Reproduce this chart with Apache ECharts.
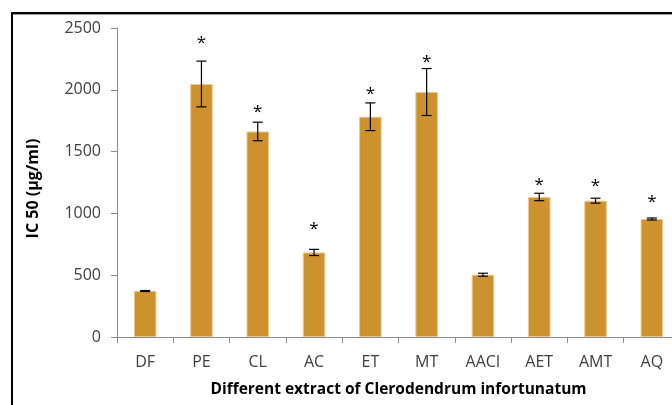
<!DOCTYPE html>
<html>
<head>
<meta charset="utf-8">
<script src="https://cdn.jsdelivr.net/npm/echarts@6/dist/echarts.min.js"></script>
<style>
html, body { margin: 0; padding: 0; background: #fff; }
#chart { width: 672px; height: 405px; }
</style>
</head>
<body>
<div id="chart"></div>
<script>
// IC50 per extract
const categories = ['DF', 'PE', 'CL', 'AC', 'ET', 'MT', 'AACI', 'AET', 'AMT', 'AQ'];
const ic50 = [372, 2047, 1663, 684, 1782, 1982, 504, 1133, 1103, 955];
const sdev = [4, 185, 75, 25, 112, 190, 12, 30, 20, 8];
// where the significance star sits (y value), null = no star
const starAt = [null, 2405, 1840, 893, 1985, 2244, null, 1250, 1243, 1119];

const axisGrey = '#8c8c8c';
const labelGrey = '#404040';

const errData = ic50.map((v, i) => [i, v - sdev[i], v + sdev[i]]);
const starData = [];
starAt.forEach((v, i) => { if (v != null) starData.push([i, v]); });

const chart = echarts.init(document.getElementById('chart'));

chart.setOption({
    animation: false,
    grid: { left: 117, right: -8, top: 28, bottom: 68, outerBoundsMode: 'none' },
    xAxis: {
        type: 'category',
        data: categories,
        axisLine: { lineStyle: { color: axisGrey } },
        axisTick: { show: true, length: 6, lineStyle: { color: axisGrey } },
        axisLabel: { margin: 17, fontSize: 16, color: labelGrey, fontFamily: 'Open Sans' },
        name: 'Different extract of Clerodendrum infortunatum',
        nameLocation: 'middle',
        nameGap: 45,
        nameTextStyle: { fontSize: 15.5, fontWeight: 'bold', color: '#000', fontFamily: 'Open Sans' }
    },
    yAxis: {
        type: 'value',
        min: 0,
        max: 2500,
        interval: 500,
        splitLine: { show: false },
        axisLine: { show: true, lineStyle: { color: axisGrey } },
        axisTick: { show: true, length: 6, lineStyle: { color: axisGrey } },
        axisLabel: {
            margin: 16, fontSize: 16, color: labelGrey, fontFamily: 'Open Sans',
            formatter: v => String(v)
        },
        name: 'IC 50 (µg/ml)',
        nameLocation: 'middle',
        nameGap: 76,
        nameTextStyle: { fontSize: 16, fontWeight: 'bold', color: '#000', fontFamily: 'Open Sans', padding: [0, 12, 0, 0] }
    },
    series: [
        {
            type: 'bar',
            data: ic50,
            barWidth: '40%',
            itemStyle: { color: '#CD922D', borderColor: '#EBC88E', borderWidth: 1 }
        },
        {
            type: 'custom',
            data: errData,
            z: 5,
            renderItem: function (params, api) {
                const lo = api.coord([api.value(0), api.value(1)]);
                const hi = api.coord([api.value(0), api.value(2)]);
                const w = 5;
                const st = { stroke: '#000', lineWidth: 1.2 };
                return {
                    type: 'group',
                    children: [
                        { type: 'line', shape: { x1: lo[0], y1: lo[1], x2: hi[0], y2: hi[1] }, style: st },
                        { type: 'line', shape: { x1: lo[0] - w, y1: lo[1], x2: lo[0] + w, y2: lo[1] }, style: st },
                        { type: 'line', shape: { x1: hi[0] - w, y1: hi[1], x2: hi[0] + w, y2: hi[1] }, style: st }
                    ]
                };
            }
        },
        {
            // significance stars
            type: 'custom',
            data: starData,
            z: 6,
            renderItem: function (params, api) {
                const p = api.coord([api.value(0), api.value(1)]);
                return {
                    type: 'text',
                    x: p[0],
                    y: p[1] + 3,
                    style: {
                        text: '*',
                        fontSize: 17,
                        fontFamily: 'Open Sans',
                        fill: '#000',
                        align: 'center',
                        verticalAlign: 'middle'
                    }
                };
            }
        }
    ],
    graphic: [
        { type: 'rect', shape: { x: 12, y: 13, width: 800, height: 500 }, style: { fill: 'none', stroke: '#000', lineWidth: 2 } },
        { type: 'line', shape: { x1: 13, y1: 14.5, x2: 672, y2: 14.5 }, style: { stroke: '#999', lineWidth: 1 } }
    ]
});
</script>
</body>
</html>
